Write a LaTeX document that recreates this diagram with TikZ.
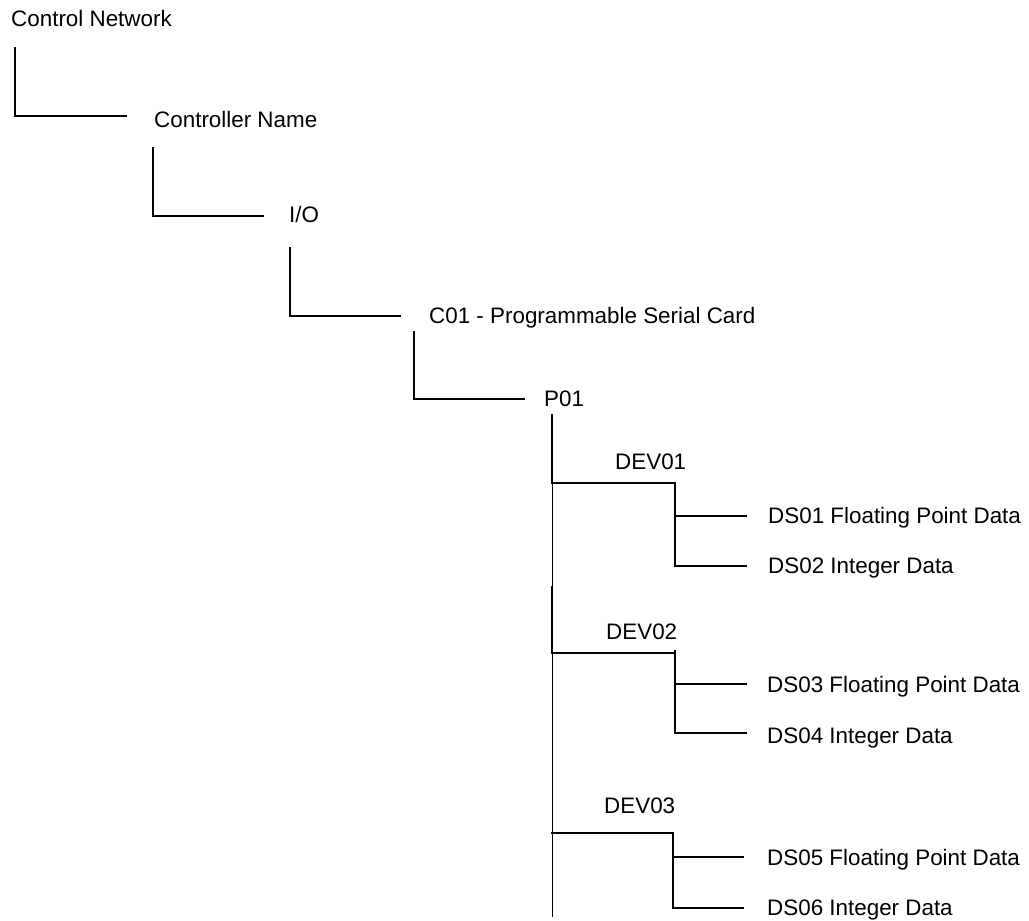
\documentclass[tikz,border=0pt]{standalone}
\usepackage{fontspec}
\setmainfont{Liberation Sans}
\begin{document}
\begin{tikzpicture}[x=1pt,y=-1pt,
  lbl/.style={anchor=base west,inner sep=0pt,font=\fontsize{22.4}{26}\selectfont},
  thick line/.style={line width=1.5pt,line cap=rect},
  thin line/.style={line width=0.8pt}]
\useasboundingbox (0,0) rectangle (1029,921);
% labels
\node[lbl] (cn)   at (11,26)  {Control Network};
\node[lbl] (ctl)  at (154,127) {Controller Name};
\node[lbl] (io)   at (289,222) {I/O};
\node[lbl] (c01)  at (429,323) {C01 - Programmable Serial Card};
\node[lbl] (p01)  at (544,406) {P01};
\node[lbl] (dev1) at (615,469) {DEV01};
\node[lbl] (ds1)  at (768,523) {DS01 Floating Point Data};
\node[lbl] (ds2)  at (768,573) {DS02 Integer Data};
\node[lbl] (dev2) at (606,639) {DEV02};
\node[lbl] (ds3)  at (767,692) {DS03 Floating Point Data};
\node[lbl] (ds4)  at (767,743) {DS04 Integer Data};
\node[lbl] (dev3) at (604,813) {DEV03};
\node[lbl] (ds5)  at (767,865) {DS05 Floating Point Data};
\node[lbl] (ds6)  at (767,915) {DS06 Integer Data};
% connector coordinates
\coordinate (a1) at (15,48);   \coordinate (a2) at (15,116);  \coordinate (a3) at (126,116);
\coordinate (b1) at (153,148); \coordinate (b2) at (153,216); \coordinate (b3) at (263,216);
\coordinate (c1) at (290,248); \coordinate (c2) at (290,316); \coordinate (c3) at (400,316);
\coordinate (d1) at (414,332); \coordinate (d2) at (414,399); \coordinate (d3) at (524,399);
\coordinate (p1) at (552,415); \coordinate (pend) at (552,917);
\coordinate (e2) at (552,483); \coordinate (e3) at (675,483); \coordinate (e4) at (675,566);
\coordinate (e5) at (675,516); \coordinate (e6) at (746,516); \coordinate (e7) at (746,566);
\coordinate (f1) at (552,587); \coordinate (f2) at (552,653); \coordinate (f3) at (675,653);
\coordinate (f0) at (675,651); \coordinate (f4) at (675,733);
\coordinate (f5) at (675,684); \coordinate (f6) at (746,684); \coordinate (f7) at (746,733);
\coordinate (g2) at (552,833); \coordinate (g3) at (673,833); \coordinate (g4) at (673,908);
\coordinate (g5) at (673,857); \coordinate (g6) at (743,857); \coordinate (g7) at (743,908);
% connectors
\draw[thick line] (a1) -- (a2) -- (a3);
\draw[thick line] (b1) -- (b2) -- (b3);
\draw[thick line] (c1) -- (c2) -- (c3);
\draw[thick line] (d1) -- (d2) -- (d3);
\draw[thin line] (p1) -- (pend);
\draw[thick line] (p1) -- (e2) -- (e3) -- (e4) -- (e7);
\draw[thick line] (e5) -- (e6);
\draw[thick line] (f1) -- (f2) -- (f3);
\draw[thick line] (f0) -- (f4) -- (f7);
\draw[thick line] (f5) -- (f6);
\draw[thick line] (g2) -- (g3) -- (g4) -- (g7);
\draw[thick line] (g5) -- (g6);
\end{tikzpicture}
\end{document}
